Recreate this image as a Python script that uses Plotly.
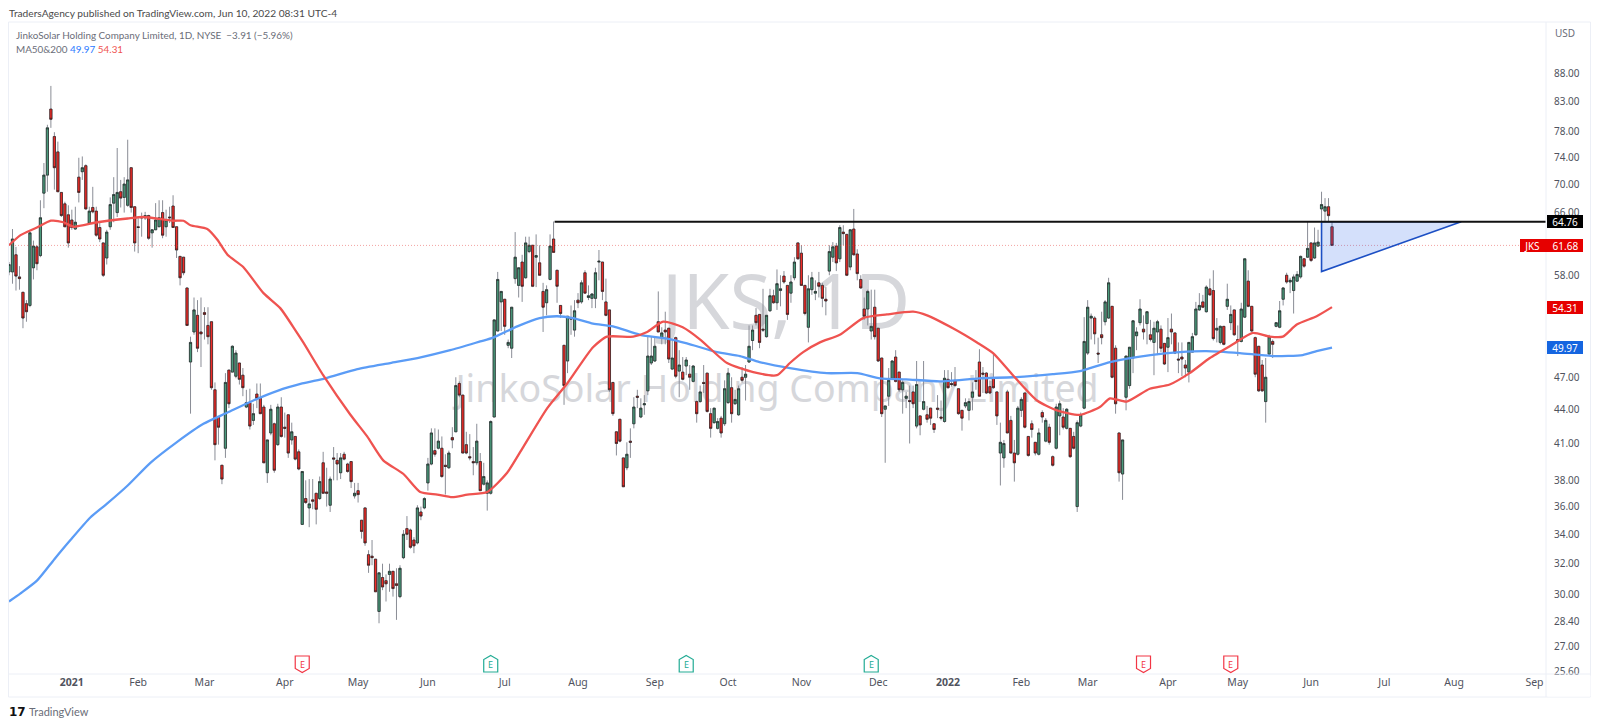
import math
import plotly.graph_objects as go

opens = [
58.4,58.4,60.5,57.8,56.0,54.7,54.5,58.9,61.5,60.4,
68.7,71.3,81.7,77.2,74.8,68.8,67.2,65.7,65.0,63.8,
71.0,71.8,72.7,64.6,66.7,66.2,64.0,62.0,60.1,64.1,
67.3,66.0,68.9,68.1,67.0,72.4,66.8,64.1,65.4,65.3,
65.6,63.3,63.7,64.1,66.0,64.1,65.4,66.9,64.1,60.3,
60.2,56.5,48.5,51.6,53.4,51.6,53.7,52.3,52.7,45.8,
43.3,39.2,40.6,47.7,47.5,47.1,48.4,47.2,44.2,44.6,
43.0,45.4,45.0,44.2,38.6,41.9,42.7,40.9,44.2,42.4,
43.5,41.3,41.6,40.3,34.7,36.6,35.9,36.5,37.0,36.6,
39.4,37.1,36.1,39.8,39.6,38.6,40.1,39.3,39.5,36.8,
37.2,35.0,35.9,32.6,32.5,32.3,29.0,31.1,30.9,31.3,
31.5,30.7,29.9,32.4,34.4,34.3,33.6,33.4,35.6,35.9,
37.8,39.3,40.4,40.6,40.6,39.2,39.0,41.5,42.0,46.4,
45.3,40.9,39.9,39.5,39.4,39.5,37.7,37.0,37.0,43.3,
51.7,54.9,55.2,50.2,49.9,57.6,56.8,59.6,57.7,60.9,
61.7,60.2,59.5,56.1,54.8,57.5,62.5,58.6,54.5,50.2,
48.6,53.1,51.8,55.1,54.9,58.3,55.4,55.3,55.3,59.6,
59.6,54.9,54.0,46.5,42.0,43.1,39.8,39.0,41.2,42.7,
45.2,43.3,44.4,45.7,48.4,48.6,52.7,51.0,51.8,52.0,
47.8,51.0,47.6,47.5,48.1,47.3,46.6,44.7,44.7,46.5,
47.4,43.6,42.8,42.3,43.2,42.7,44.6,46.0,44.5,43.5,
47.0,47.0,48.5,50.7,53.4,53.5,51.9,51.1,53.9,55.6,
54.8,56.2,57.9,56.8,55.9,57.7,62.0,60.7,56.8,52.1,
56.3,55.9,57.1,56.8,55.2,58.5,60.2,61.6,60.0,63.4,
63.1,59.0,63.8,60.6,57.5,54.1,54.1,51.7,54.3,52.0,
48.9,44.0,45.2,46.9,49.0,47.5,45.8,45.0,44.8,45.6,
42.5,43.4,44.0,43.5,44.1,42.7,44.1,43.3,42.9,46.8,
46.4,46.7,45.9,43.9,44.3,43.9,45.1,46.7,48.5,47.4,
47.4,46.1,46.9,45.6,40.2,39.8,45.6,43.0,40.2,40.1,
43.9,45.5,41.6,42.7,41.1,40.1,43.7,41.2,42.4,39.9,
40.6,43.4,43.3,42.3,42.3,41.6,36.0,42.5,44.1,49.4,
53.1,53.1,49.4,51.3,52.7,53.1,54.4,49.9,41.9,38.5,
45.1,46.2,48.9,51.2,52.6,51.9,52.5,51.3,50.5,51.6,
51.9,50.4,50.0,51.9,51.5,48.8,49.0,48.2,47.5,49.5,
51.3,54.0,54.9,53.8,56.4,56.2,51.8,50.5,52.2,54.4,
52.6,54.0,50.8,50.6,53.2,57.3,54.4,51.0,50.1,48.2,
44.7,49.3,50.6,52.2,52.1,55.2,58.0,57.2,56.2,57.3,
57.8,60.0,60.2,62.0,60.1,61.6,66.5,66.2,66.8,64.1,
]
highs = [
59.6,63.8,61.5,59.1,56.0,55.1,63.3,62.3,61.7,67.7,
73.1,79.1,85.7,77.9,76.4,68.8,67.5,67.0,66.4,66.8,
73.9,74.1,72.9,66.8,69.6,66.8,64.6,62.0,63.7,68.1,
71.0,75.4,70.6,71.0,76.7,72.4,66.8,65.4,66.0,66.1,
65.7,63.7,67.3,67.7,67.7,66.4,66.8,68.4,64.1,60.3,
60.2,56.5,51.1,55.4,55.1,55.4,54.3,54.3,52.7,46.5,
43.3,39.2,47.4,47.7,50.2,49.7,48.4,47.9,45.8,45.9,
44.5,46.4,46.4,44.4,41.3,44.4,42.8,44.5,45.1,43.7,
43.5,42.8,41.6,40.5,38.7,38.0,38.1,38.1,37.0,38.3,
40.3,39.0,38.3,40.7,40.2,40.2,40.3,39.4,39.5,37.8,
37.8,35.0,35.9,32.9,33.6,32.3,31.4,32.0,31.3,32.0,
31.5,31.7,31.9,34.3,35.3,34.4,33.8,36.1,36.0,36.7,
39.8,42.3,42.3,42.2,41.6,40.1,40.4,42.4,47.0,46.6,
45.3,42.0,41.8,40.7,42.7,40.2,39.4,38.0,43.0,52.9,
58.4,56.1,55.2,50.8,54.3,63.4,58.9,60.5,62.8,62.8,
61.7,63.1,61.7,57.1,56.8,63.1,64.8,58.6,54.5,50.2,
53.3,54.5,55.1,55.9,57.4,58.6,56.8,55.9,58.9,61.1,
59.6,57.6,54.0,46.5,42.0,43.1,39.8,41.1,42.3,45.1,
45.8,45.0,45.3,51.1,51.1,51.0,56.1,52.1,53.8,52.0,
50.8,51.1,49.7,49.0,49.0,48.2,48.2,44.8,46.2,48.2,
47.4,44.1,44.1,43.2,43.4,46.7,47.9,47.0,45.8,46.2,
48.0,48.2,52.3,52.3,54.2,53.5,56.4,53.4,56.4,56.3,
58.7,58.0,58.5,56.8,58.0,60.2,62.0,61.7,56.8,58.0,
58.4,57.4,58.4,57.1,56.6,61.7,62.1,62.0,64.3,64.3,
63.1,63.8,66.5,61.2,58.0,55.4,56.3,56.3,56.3,52.0,
48.9,44.3,47.9,48.7,49.7,47.5,46.7,45.6,46.2,46.2,
48.6,43.4,48.6,44.3,44.1,42.7,45.3,44.8,47.7,47.7,
47.5,48.0,45.9,43.9,45.0,45.0,46.5,47.7,49.8,48.0,
47.5,46.7,49.4,45.6,42.8,41.3,45.8,43.4,41.3,44.3,
45.1,45.5,41.6,43.0,41.1,42.3,43.9,43.2,42.7,40.0,
44.5,44.8,44.1,44.1,42.3,42.0,43.0,43.7,53.2,55.1,
53.6,53.3,51.0,53.8,55.1,57.7,54.4,50.2,41.9,41.3,
49.1,50.0,52.8,52.1,55.2,53.4,53.8,52.9,52.7,52.9,
52.3,50.4,53.1,53.6,51.5,50.5,50.5,48.7,50.5,51.5,
54.9,55.9,55.7,56.8,57.6,58.6,53.1,52.3,52.2,57.0,
54.5,54.0,52.3,54.8,60.0,58.6,54.4,51.1,50.1,48.7,
48.9,51.3,50.8,52.6,55.0,56.6,58.3,57.7,58.1,58.5,
60.4,60.1,64.8,62.0,64.0,63.7,68.9,68.0,68.0,64.8,
]
lows = [
58.0,57.0,56.2,56.3,52.0,52.7,54.3,57.5,58.6,60.2,
66.6,68.9,78.6,69.2,68.9,65.4,64.1,61.4,63.7,63.7,
67.4,70.6,66.4,64.4,65.9,62.8,62.1,57.8,59.3,63.7,
64.7,65.4,66.7,66.0,66.8,66.0,60.9,60.7,62.8,65.0,
62.4,61.4,63.7,64.1,62.6,62.8,64.6,64.0,60.1,56.8,
58.0,52.3,43.6,51.3,49.5,48.0,50.8,50.3,45.8,39.6,
40.9,37.7,39.8,44.1,47.5,46.9,46.3,45.2,44.1,42.2,
42.6,44.1,43.6,39.4,37.8,41.7,38.6,40.8,41.5,41.5,
39.8,40.9,39.6,38.8,34.7,36.2,34.5,35.8,34.7,36.5,
37.0,36.0,35.6,38.0,38.0,38.1,39.6,38.6,37.4,36.6,
36.3,33.7,33.2,31.4,31.9,30.2,28.3,30.3,29.6,30.2,
29.9,28.5,29.8,32.3,33.6,33.0,32.7,33.3,35.0,35.8,
37.2,39.2,39.9,40.5,38.2,36.9,38.9,40.6,42.0,45.1,
40.2,40.1,39.6,38.4,39.2,37.2,37.6,35.7,36.9,43.3,
51.7,51.7,51.3,49.9,48.9,57.0,55.4,54.9,57.6,60.7,
56.6,56.6,58.0,51.6,53.4,57.4,60.8,54.8,53.1,44.4,
47.4,51.3,51.1,54.2,54.7,55.9,55.1,54.2,54.2,57.4,
55.1,53.3,45.6,43.4,40.0,41.1,37.5,38.8,39.8,42.3,
44.1,43.2,43.5,45.3,48.2,48.5,51.6,50.3,50.3,48.4,
47.7,46.9,45.1,46.7,47.2,45.8,46.5,42.8,44.6,45.5,
43.7,41.5,42.7,42.2,41.5,42.5,44.5,42.8,44.4,43.4,
46.5,44.8,48.4,49.7,52.3,49.9,51.6,51.0,53.8,54.7,
54.0,54.4,57.0,52.9,54.8,57.4,59.9,56.8,53.4,50.5,
55.7,55.1,55.4,54.3,53.4,58.0,59.6,58.5,59.6,61.7,
57.9,58.6,60.4,57.4,56.4,52.9,52.3,50.8,50.8,48.5,
43.3,39.4,44.3,46.9,46.5,45.6,43.6,44.1,41.0,44.1,
42.3,41.7,43.9,42.8,42.6,41.9,43.2,43.0,42.8,45.9,
46.1,46.1,43.5,42.1,44.1,43.0,43.9,45.8,45.2,45.5,
45.4,45.4,45.9,42.6,37.6,39.0,41.9,40.2,37.9,40.0,
43.3,42.3,39.9,41.5,40.0,40.0,42.8,41.1,40.9,39.1,
40.5,41.7,42.2,42.2,39.8,40.5,35.6,42.4,44.0,49.2,
50.8,50.3,48.4,50.3,52.3,53.0,46.9,43.6,37.9,36.5,
43.9,45.9,47.4,49.7,52.3,50.8,50.3,50.6,47.2,49.2,
49.5,48.2,47.5,50.3,49.3,47.4,47.1,47.0,46.5,49.5,
51.2,53.9,54.2,53.7,55.6,50.7,50.5,50.3,50.2,54.0,
51.8,51.2,49.1,50.5,53.1,54.3,51.6,47.0,45.6,45.6,
42.8,49.2,48.9,52.1,52.0,54.5,57.0,55.9,53.6,57.2,
57.6,58.9,60.1,59.6,60.0,61.5,64.8,64.8,64.8,61.68,
]
closes = [
59.3,62.5,57.9,57.6,53.1,53.8,63.3,61.6,59.4,65.3,
71.3,78.6,80.0,72.4,68.9,65.6,64.1,62.0,64.0,64.7,
68.8,72.4,66.5,66.2,66.1,63.0,62.5,58.0,63.4,67.1,
68.5,68.8,68.0,70.0,70.6,66.7,62.0,64.0,65.3,65.6,
62.6,63.7,65.0,65.3,63.0,65.0,65.3,64.0,61.1,57.7,
58.3,52.3,50.5,54.0,49.9,51.4,53.5,51.1,46.0,40.9,
42.4,38.1,46.5,44.5,50.1,49.4,46.8,46.0,44.6,42.5,
43.6,45.0,43.6,39.4,41.3,44.0,38.8,44.2,41.6,42.3,
40.2,42.0,39.7,38.9,38.7,36.3,36.2,36.4,35.8,37.9,
37.0,37.0,38.1,39.7,39.3,39.8,39.7,38.7,37.9,37.0,
36.9,34.2,33.4,31.9,32.4,30.2,31.4,30.5,30.7,31.5,
30.4,30.6,31.7,34.0,34.0,33.1,33.2,35.9,35.3,36.6,
39.3,41.9,40.1,41.2,38.3,39.1,40.2,41.3,46.2,45.3,
40.2,40.2,39.8,39.4,41.2,37.2,38.3,37.8,42.9,52.9,
57.5,56.1,52.2,50.5,54.3,60.2,58.9,56.7,62.0,61.7,
56.7,60.4,58.0,54.3,56.3,61.6,60.8,56.7,53.6,46.2,
53.3,53.0,53.9,54.8,57.1,55.9,55.6,55.8,58.3,59.7,
56.1,53.4,45.8,43.6,41.0,41.2,37.5,40.1,41.1,44.2,
45.1,44.1,44.5,49.1,49.1,50.1,51.6,51.5,51.6,48.8,
48.9,47.1,48.2,46.8,48.7,47.0,48.1,43.6,45.6,46.4,
43.8,42.3,44.1,42.9,41.9,45.9,47.4,43.6,44.9,45.9,
46.7,47.3,50.1,51.8,52.6,50.5,51.8,53.4,55.6,54.8,
57.0,56.4,57.2,53.5,57.2,59.6,60.0,56.8,53.6,56.4,
57.7,56.1,56.7,55.3,55.0,60.9,61.5,59.5,64.0,63.2,
58.0,63.7,60.5,58.2,56.5,53.3,56.1,52.2,51.1,48.6,
43.6,44.3,46.7,48.6,46.6,45.8,46.5,45.2,44.7,44.5,
46.3,42.6,44.7,43.1,43.2,42.2,44.0,43.2,46.9,46.0,
46.3,46.2,43.6,43.2,44.6,44.7,45.6,46.6,45.2,47.3,
45.5,45.5,46.0,43.4,41.1,41.0,41.9,40.2,39.4,44.1,
44.9,42.4,40.0,42.2,40.2,41.9,43.3,43.0,41.1,39.2,
44.2,44.5,42.4,44.0,39.9,40.6,42.8,43.5,50.6,54.3,
53.3,51.4,49.3,51.0,54.9,57.1,47.0,44.5,38.6,41.3,
49.1,50.0,52.8,51.6,54.1,51.6,53.8,50.8,52.0,52.7,
49.9,48.3,51.0,51.6,49.4,48.7,48.8,47.9,50.5,51.1,
54.1,54.5,54.3,56.6,55.7,50.9,52.0,52.2,50.3,55.2,
53.5,51.3,50.6,54.1,60.0,54.4,51.7,47.3,45.7,45.7,
47.0,51.1,50.3,52.6,53.9,56.5,57.2,57.4,57.8,58.1,
60.3,59.1,61.3,59.8,62.0,62.1,67.1,66.8,65.59,61.68,
]

ma200_bars = [0,3.3,8,13,17.6,23.3,28,34,40.5,48,55.7,62.6,70,76.9,84,90.6,99.8,109.2,117,126.4,135,138.7,145.6,152,157,161.6,167.3,173,180.8,188.5,194.2,202.8,209.4,215,223.7,234.3,243,249.5,257,266.7,278,287.6,299,306.8,315.4,327,335.4,343,352.6,362,370.6,374.6,379]
ma200_vals = [29.6,30.1,30.9,32.3,33.6,35.2,36.2,37.6,39.4,41.1,42.7,43.7,44.8,45.7,46.4,46.9,47.8,48.4,48.9,49.7,50.6,51.0,52.2,53.1,53.3,53.1,52.5,52.2,51.3,50.9,50.4,49.5,49.1,48.5,47.9,47.4,47.4,46.9,46.8,46.6,46.9,47.0,47.3,47.6,48.5,49.2,49.5,49.6,49.4,49.1,49.2,49.6,49.97]
ma50_bars = [0,3.3,8,12,15.6,18.5,25.3,34,38.5,47,50,52,56.8,59.7,62.6,67.1,72.9,77.7,82,84.3,90,97.8,102.6,107.2,113,117.8,122.7,127,131.3,137,142.7,147.3,154.2,159.9,167.3,171.3,178.8,182.8,187.4,193,198,205.7,213.2,220,223.7,227.5,232.3,238,244.7,251.5,259,263,270.4,277.3,281.9,287.6,294.5,300.2,306.8,312.5,315.4,320.2,326.8,332.5,338.2,344,350.6,356.3,361.2,364.9,368.9,374.6,379]
ma50_vals = [61.7,63.0,64.0,64.9,64.7,64.1,64.7,65.2,65.4,64.9,64.9,64.3,63.8,62.4,60.5,59.0,55.9,54.2,51.8,50.5,47.2,43.5,41.6,39.6,38.5,37.1,36.9,36.7,36.9,37.1,38.6,40.7,44.1,46.4,50.0,51.1,51.1,51.6,52.7,52.1,50.8,48.4,47.5,47.2,48.4,49.5,50.5,51.3,53.1,53.5,53.8,53.4,52.0,50.5,49.4,47.2,44.8,43.9,43.5,44.2,45.0,44.7,45.9,46.3,47.4,48.9,50.3,51.5,51.1,51.1,52.4,53.3,54.31]

month_bars = [18,37,56,79,100,120,142,163,185,206,227,249,269,290,309,332,352,373,394,414,437]
month_labels = ["<b>2021</b>","Feb","Mar","Apr","May","Jun","Jul","Aug","Sep","Oct","Nov","Dec","<b>2022</b>","Feb","Mar","Apr","May","Jun","Jul","Aug","Sep"]
price_ticks = [88,83,78,74,70,66,58,47,44,41,38,36,34,32,30,28.4,27,25.6]

resistance_price = 64.76
resistance_bars = [156.3, 440.3]
triangle_bars = [376, 376, 416, 376]
triangle_prices = [64.76, 58.45, 64.76, 64.76]
last_price = 61.68
earn_red_bars = [84, 325, 350]
earn_green_bars = [138, 194, 247]

n = len(opens)
assert n == len(highs) == len(lows) == len(closes), (n, len(highs), len(lows), len(closes))
bars = list(range(n))

FONT = "Noto Sans"
LABEL = "Lato"
GREEN = "#4b9a7c"
RED = "#f02c28"
TXT = "#50535e"

fig = go.Figure()

# watermark, on the base axes so that everything else draws over it
fig.add_trace(go.Scatter(x=[0.5055], y=[0.558], mode="text", text=["JKS, 1D"], textposition="middle center",
                         textfont=dict(family=FONT, size=76, color="#d6d7db"), hoverinfo="skip", showlegend=False))
fig.add_trace(go.Scatter(x=[0.4997], y=[0.431], mode="text", text=["JinkoSolar Holding Company Limited"], textposition="middle center",
                         textfont=dict(family=FONT, size=37.5, color="#d6d7db"), hoverinfo="skip", showlegend=False))

# wicks
fig.add_trace(go.Candlestick(x=bars, open=opens, high=highs, low=lows, close=closes, xaxis="x2", yaxis="y2", whiskerwidth=0,
                             increasing=dict(line=dict(color="#8a8d96", width=1), fillcolor=GREEN),
                             decreasing=dict(line=dict(color="#8a8d96", width=1), fillcolor=RED),
                             hoverinfo="skip", showlegend=False))
# bodies
fig.add_trace(go.Candlestick(x=bars, open=opens, close=closes,
                             high=[max(a, b) for a, b in zip(opens, closes)],
                             low=[min(a, b) for a, b in zip(opens, closes)],
                             xaxis="x2", yaxis="y2", whiskerwidth=0,
                             increasing=dict(line=dict(color="#1a1a1a", width=0.6), fillcolor=GREEN),
                             decreasing=dict(line=dict(color="#1a1a1a", width=0.6), fillcolor=RED),
                             showlegend=False))

fig.add_trace(go.Scatter(x=[0, 440.3], y=[last_price, last_price], mode="lines", xaxis="x2", yaxis="y2",
                         line=dict(color="rgba(229,50,46,0.45)", width=1, dash="1px,2px"), hoverinfo="skip", showlegend=False))
fig.add_trace(go.Scatter(x=ma200_bars, y=ma200_vals, mode="lines", xaxis="x2", yaxis="y2",
                         line=dict(color="#5b9cf6", width=2.3, shape="spline", smoothing=0.6), showlegend=False))
fig.add_trace(go.Scatter(x=ma50_bars, y=ma50_vals, mode="lines", xaxis="x2", yaxis="y2",
                         line=dict(color="#ef5350", width=2.3, shape="spline", smoothing=0.6), showlegend=False))
fig.add_trace(go.Scatter(x=triangle_bars, y=triangle_prices, mode="lines", fill="toself", fillcolor="rgba(41,98,235,0.2)",
                         xaxis="x2", yaxis="y2", line=dict(color="#1c4fc4", width=1.6), showlegend=False))
fig.add_trace(go.Scatter(x=resistance_bars, y=[resistance_price, resistance_price], mode="lines", xaxis="x2", yaxis="y2",
                         line=dict(color="#111111", width=2), showlegend=False))

PW, PL, PT, PH = 1538.0, 8.5, 22.0, 652.0
def px(x):
    return (x - PL) / PW
def py(y):
    return (PT + PH - y) / PH

ann = []
def text(x, y, s, size=10, color=TXT, anchor="left", family=LABEL):
    ann.append(dict(xref="paper", yref="paper", x=px(x), y=py(y), text=s, showarrow=False, xanchor=anchor, yanchor="middle",
                    font=dict(family=family, size=size, color=color)))

text(6.5, 12.5, "TradersAgency published on TradingView.com, Jun 10, 2022 08:31 UTC-4", 10.2, "#4a4a4a")
text(13.5, 35, "JinkoSolar Holding Company Limited, 1D, NYSE  −3.91 (−5.96%)", 9.9, "#6a6d78")
text(13.5, 48.5, 'MA50&200 <span style="color:#2979ff">49.97</span> <span style="color:#ef5350">54.31</span>', 9.9, "#6a6d78")
text(1554, 33, "USD", 10, "#6a6d78", family=FONT)
text(6.5, 712, "<b>17</b>", 12, "#111111", family="DejaVu Sans")
text(26.5, 712, "TradingView", 11, "#6a6d78")

# covers the lower half of the lowest price label, which the time scale cuts off in the reference
ann.append(dict(xref="paper", yref="paper", x=px(1547.5), y=py(675), text=" ", showarrow=False, xanchor="left", yanchor="top",
                width=42, height=20, bgcolor="white", borderpad=0))

def price_box(value, label, bg):
    ann.append(dict(xref="paper", yref="y2", x=px(1583.5), y=math.log10(value), text=label, showarrow=False, xanchor="right", yanchor="middle",
                    font=dict(family=FONT, size=10, color="white"), bgcolor=bg, borderpad=0, borderwidth=0, height=13))

price_box(64.76, "  64.76  ", "#000000")
price_box(61.68, "  JKS     61.68  ", "#e60000")
price_box(54.31, "  54.31  ", "#e60000")
price_box(49.97, "  49.97  ", "#1565e0")

FR = "#eceff6"
shapes = [
    dict(type="rect", xref="paper", yref="paper", x0=px(8), x1=px(1591), y0=py(697), y1=py(22), line=dict(color=FR, width=1), layer="below"),
    dict(type="line", xref="paper", yref="paper", x0=px(1546.5), x1=px(1546.5), y0=py(697), y1=py(22), line=dict(color=FR, width=1)),
    dict(type="line", xref="paper", yref="paper", x0=px(8), x1=px(1591), y0=py(674), y1=py(674), line=dict(color=FR, width=1)),
]

# earnings flags: white shields with a coloured outline, pointing away from the "E"
RED_SHIELD = "M -7,8 H 7 V -4.5 L 0,-8.5 L -7,-4.5 Z"
GREEN_SHIELD = "M 0,8.5 L 7,4.5 V -8 H -7 V 4.5 Z"
for xs, col, path in ((earn_red_bars, "#f23645", RED_SHIELD), (earn_green_bars, "#22ab94", GREEN_SHIELD)):
    for b in xs:
        shapes.append(dict(type="path", path=path, xref="x2", yref="paper", xsizemode="pixel", ysizemode="pixel", xanchor=b, yanchor=py(664),
                           fillcolor="white", line=dict(color=col, width=1.2), layer="above"))
        ann.append(dict(xref="x2", yref="paper", x=b, y=py(664), text="E", showarrow=False, xanchor="center", yanchor="middle",
                        font=dict(family=FONT, size=9, color=col)))

fig.update_layout(
    width=1600, height=726, autosize=False, paper_bgcolor="white", plot_bgcolor="rgba(0,0,0,0)",
    margin=dict(l=8.5, r=53.5, t=22, b=52), showlegend=False, hovermode=False, boxgap=0.1,
    font=dict(family=FONT, size=10, color=TXT),
    xaxis=dict(range=[0, 1], visible=False, fixedrange=True),
    yaxis=dict(range=[0, 1], visible=False, fixedrange=True),
    xaxis2=dict(overlaying="x", anchor="y2", range=[0, 440.3], rangeslider=dict(visible=False), showgrid=False, zeroline=False,
                tickmode="array", tickvals=month_bars, ticktext=month_labels, ticks="", side="bottom",
                tickfont=dict(family=FONT, size=10.5, color=TXT), showline=False),
    yaxis2=dict(overlaying="y", anchor="x2", side="right", type="log", range=[math.log10(25.49), math.log10(97.77)], showgrid=False, zeroline=False,
                tickmode="array", tickvals=price_ticks, ticktext=["%.2f" % t for t in price_ticks], ticks="", ticklabelstandoff=7,
                tickfont=dict(family=FONT, size=10, color=TXT), showline=False),
    annotations=ann, shapes=shapes,
)

fig.write_html("out.html", config={"displayModeBar": False},
               post_script="document.body.style.margin='0';document.body.style.overflow='hidden';")
